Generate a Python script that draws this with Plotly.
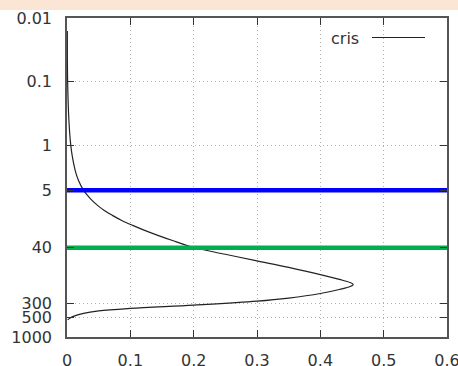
import plotly.graph_objects as go

# curve "cris": x value vs depth (log axis, reversed)
cris_depth = [0.016, 0.1, 0.4, 1, 1.6, 2.46, 3.5, 5, 6.04, 7.24, 8.66, 10.4, 12.4, 14.9, 17.8,
              21.3, 25.5, 30.5, 39.6, 50.5, 64, 81, 105, 125, 140, 150, 162, 180, 208, 245,
              274, 316, 356, 390, 426, 475, 520, 540]
cris_x = [0.0005, 0.001, 0.003, 0.006, 0.009, 0.013, 0.018, 0.026, 0.0324, 0.0395, 0.0482,
          0.0589, 0.0716, 0.0865, 0.1037, 0.1226, 0.1434, 0.1655, 0.2, 0.25, 0.3, 0.35, 0.4,
          0.43, 0.447, 0.452, 0.447, 0.43, 0.4, 0.35, 0.3, 0.2, 0.1, 0.05, 0.026, 0.01,
          0.003, 0.001]

hline_levels = [5, 40]
hline_colors = ["#0000ff", "#00b050"]
hline_x = [0, 0.605]

y_ticks = [0.01, 0.1, 1, 5, 40, 300, 500, 1000]
y_ticktext = ["0.01", "0.1", "1", "5", "40", "300", "500", "1000"]
x_ticks = [0, 0.1, 0.2, 0.3, 0.4, 0.5, 0.6]
x_ticktext = ["0", "0.1", "0.2", "0.3", "0.4", "0.5", "0.6"]

W, H = 458, 366
ml, mr, mt, mb = 67, 11, 18, 29
pw, ph = W - ml - mr, H - mt - mb

fig = go.Figure()
fig.add_trace(go.Scatter(x=cris_x, y=cris_depth, mode="lines", name="cris",
                         line=dict(color="#222222", width=1.2, shape="spline", smoothing=1.0),
                         showlegend=False))
for lvl, col in zip(hline_levels, hline_colors):
    fig.add_trace(go.Scatter(x=hline_x, y=[lvl, lvl], mode="lines",
                             line=dict(color=col, width=4.5), showlegend=False,
                             cliponaxis=False))

font = dict(family="DejaVu Sans", size=16, color="#333333")
axis_common = dict(showgrid=True, gridcolor="#b0b0b0", griddash="1px,3px", gridwidth=1,
                   zeroline=False, showline=True, linecolor="#555555", linewidth=1.5,
                   mirror="ticks", ticks="inside", ticklen=7, tickcolor="#333333",
                   tickfont=font, automargin=False, ticklabeloverflow="allow")

fig.update_layout(
    width=W, height=H,
    margin=dict(l=ml, r=mr, t=mt, b=mb),
    paper_bgcolor="white", plot_bgcolor="white",
    font=font,
    xaxis=dict(range=[0, 0.6], tickvals=x_ticks, ticktext=x_ticktext,
               ticklabelstandoff=8, **axis_common),
    yaxis=dict(type="log", range=[3, -2], tickvals=y_ticks, ticktext=y_ticktext,
               ticklabelstandoff=10, **axis_common),
    shapes=[
        dict(type="rect", xref="paper", yref="paper",
             x0=-ml / pw, x1=1 + mr / pw, y0=1 + (mt - 10) / ph, y1=1 + mt / ph,
             fillcolor="#fbe6d6", line=dict(width=0), layer="below"),
        dict(type="line", xref="paper", yref="paper",
             x0=(372 - ml) / pw, x1=(425 - ml) / pw,
             y0=1 - (37.5 - mt) / ph, y1=1 - (37.5 - mt) / ph,
             line=dict(color="#222222", width=1.2)),
    ],
    annotations=[
        dict(text="cris", xref="paper", yref="paper", x=(361 - ml) / pw,
             y=1 - (38 - mt) / ph, xanchor="right", yanchor="middle",
             showarrow=False, font=font),
    ],
)

fig.write_html("out.html")
